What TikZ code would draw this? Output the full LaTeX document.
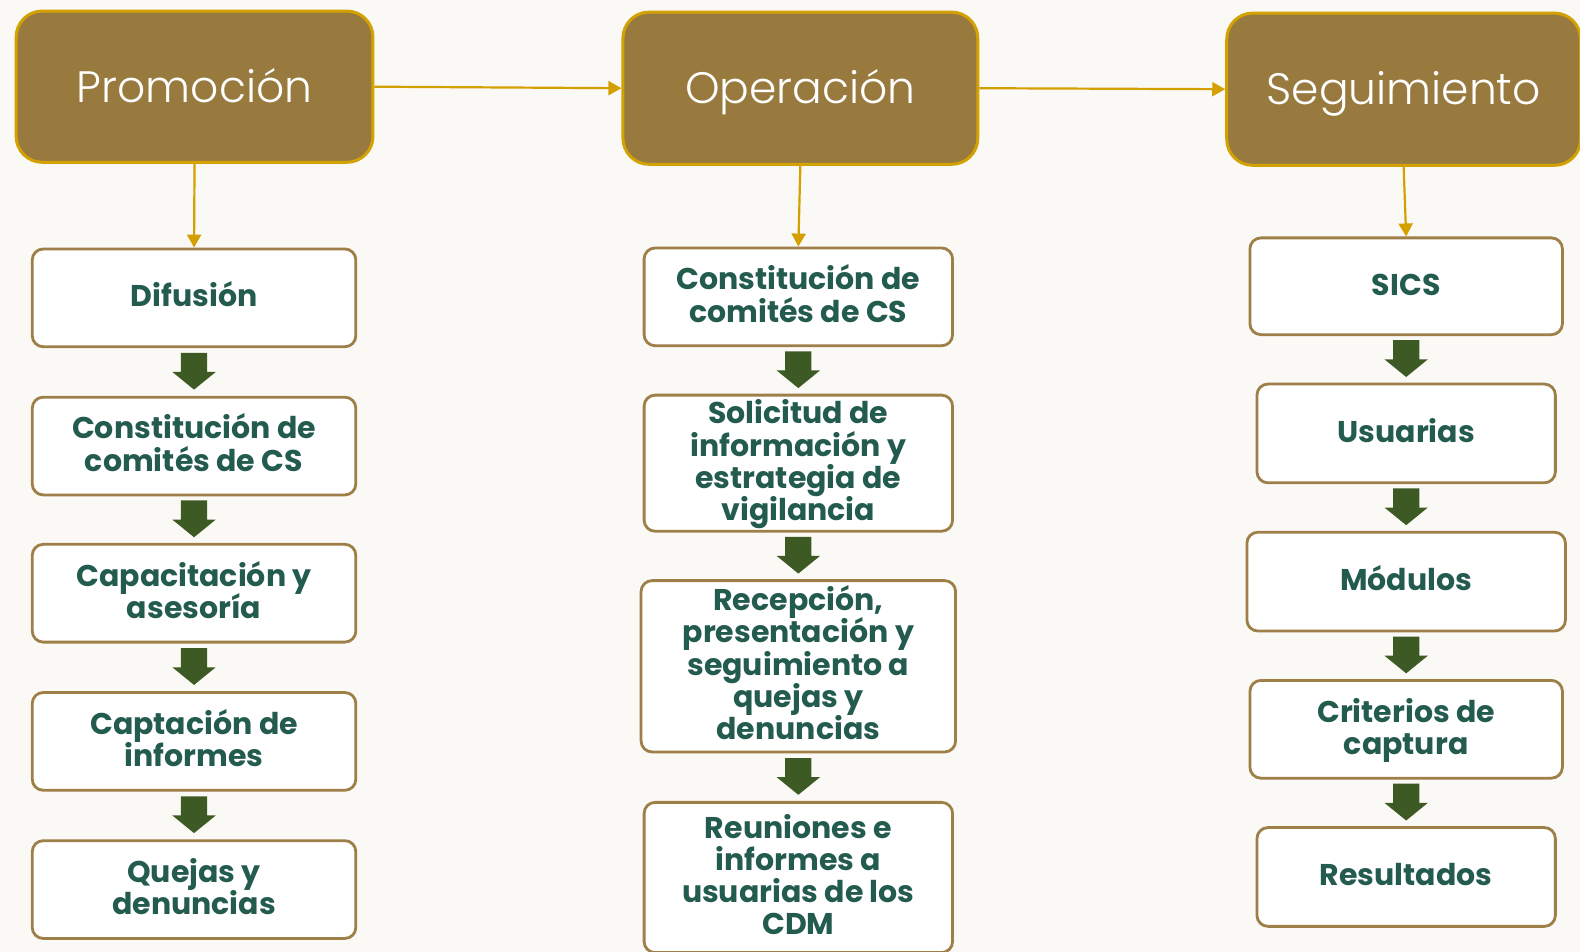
\documentclass[tikz,border=0pt]{standalone}
\usepackage{fontspec}
\setmainfont{Poppins}
\newfontfamily\hdrfont{Poppins Light}
\usetikzlibrary{arrows.meta,calc}
\definecolor{hdrfill}{HTML}{987A3F}
\definecolor{hdrline}{HTML}{D4A103}
\definecolor{gold}{HTML}{D4A000}
\definecolor{boxline}{HTML}{9E7F47}
\definecolor{txtgreen}{HTML}{235B4E}
\definecolor{arrgreen}{HTML}{3D5A24}
\definecolor{bgcol}{HTML}{FBF9F6}
\newcommand\mkbox[7]{%
  \pgfmathsetmacro\cx{(#3+#5)/2}\pgfmathsetmacro\cy{(#4+#6)/2}%
  \pgfmathsetmacro\ww{1.008*(#5-#3)}\pgfmathsetmacro\hh{1.008*(#6-#4)}%
  \node[#1, minimum width=\ww bp, minimum height=\hh bp] (#2) at (\cx,\cy) {#7};}
\newcommand\txtlines[1]{\vbox{\hsize=290bp\lineskiplimit=-100bp\centering
  \rule{0pt}{28bp}#1\rule[-10bp]{0pt}{10bp}\par}}
\newcommand\mkstep[6]{\mkbox{stepbox}{#1}{#2}{#3}{#4}{#5}{\txtlines{#6}}}
\newcommand\blockarrow[2]{%
  \path (#1.south) -- (#2.north) coordinate[midway] (mid);
  \fill[blk] ($(mid)+(-13,-19)$) -- ($(mid)+(13,-19)$) -- ($(mid)+(13,0)$) -- ($(mid)+(21.5,0)$)
    -- ($(mid)+(0,17.5)$) -- ($(mid)+(-21.5,0)$) -- ($(mid)+(-13,0)$) -- cycle;}
\begin{document}
\begin{tikzpicture}[x=1.008bp,y=-1.008bp,
  hdr/.style={draw=hdrline, line width=3bp, fill=hdrfill, rounded corners=26bp, text=white,
    font=\hdrfont\fontsize{44bp}{50bp}\selectfont, inner sep=0pt, text height=31bp, text depth=0pt},
  stepbox/.style={draw=boxline, line width=2.8bp, fill=white, rounded corners=11bp, text=txtgreen,
    font=\bfseries\fontsize{30bp}{32.3bp}\selectfont, inner sep=0pt},
  link/.style={draw=gold, line width=2.2bp, -{Triangle[length=13bp,width=14bp]}},
  blk/.style={fill=arrgreen}]
\fill[bgcol] (0,0) rectangle (1567.46,944.44);
\useasboundingbox (0,0) rectangle (1567.46,944.44);
% headers
\mkbox{hdr}{h1}{16}{11}{370}{161}{Promoción}
\mkbox{hdr}{h2}{618}{12}{970}{163}{Operación}
\mkbox{hdr}{h3}{1217}{13}{1568}{164}{Seguimiento}
% left column
\mkstep{l1}{32}{247}{353}{344}{Difusión}
\mkstep{l2}{32}{394}{353}{491}{Constitución de\\comités de CS}
\mkstep{l3}{32}{540}{353}{637}{Capacitación y\\asesoría}
\mkstep{l4}{32}{687}{353}{784}{Captación de\\informes}
\mkstep{l5}{32}{834}{353}{931}{Quejas y\\denuncias}
% middle column
\mkstep{m1}{639}{246}{945}{343}{Constitución de\\comités de CS}
\mkstep{m2}{639}{392}{945}{527}{Solicitud de\\información y\\estrategia de\\vigilancia}
\mkstep{m3}{636}{576}{948}{746}{Recepción,\\presentación y\\seguimiento a\\quejas y\\denuncias}
\mkstep{m4}{639}{796}{945}{945}{Reuniones e\\informes a\\usuarias de los\\CDM}
% right column
\mkstep{r1}{1240}{236}{1550}{332}{SICS}
\mkstep{r2}{1247}{381}{1543}{479}{Usuarias}
\mkstep{r3}{1237}{528}{1553}{626}{Módulos}
\mkstep{r4}{1240}{675}{1550}{772}{Criterios de\\captura}
\mkstep{r5}{1247}{821}{1543}{919}{Resultados}
% connectors
\draw[link] (h1.east) -- (h2.west);
\draw[link] (h2.east) -- (h3.west);
\draw[link] (h1.south) -- (l1.north);
\draw[link] (h2.south) -- (m1.north);
\draw[link] (h3.south) -- (r1.north);
\blockarrow{l1}{l2}\blockarrow{l2}{l3}\blockarrow{l3}{l4}\blockarrow{l4}{l5}
\blockarrow{m1}{m2}\blockarrow{m2}{m3}\blockarrow{m3}{m4}
\blockarrow{r1}{r2}\blockarrow{r2}{r3}\blockarrow{r3}{r4}\blockarrow{r4}{r5}
\end{tikzpicture}
\end{document}
